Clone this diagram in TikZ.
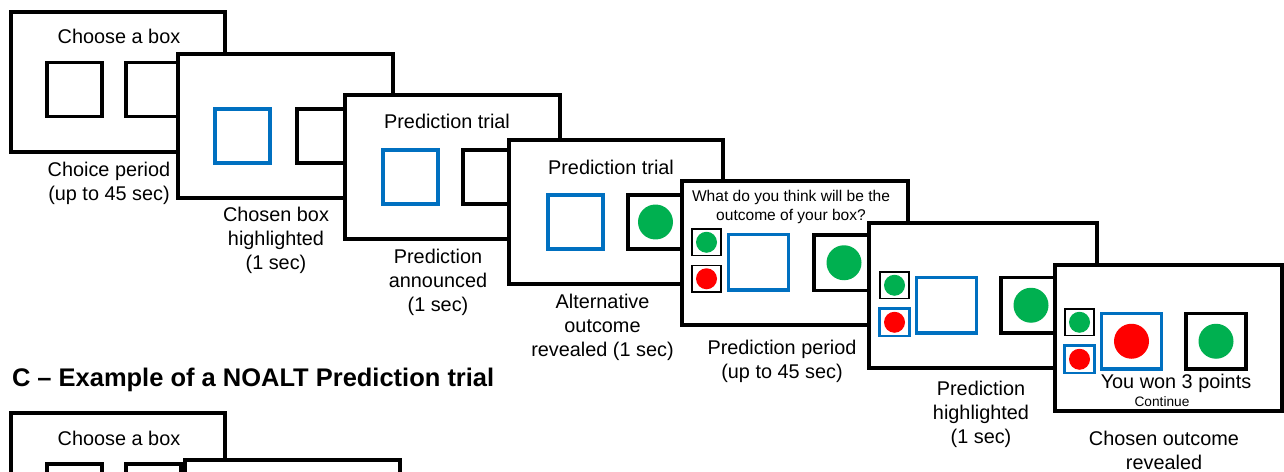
\documentclass[tikz,border=0pt]{standalone}
\usepackage{fontspec}
\setmainfont{Liberation Sans}
\definecolor{boxblue}{RGB}{0,112,192}
\definecolor{dotgreen}{RGB}{0,176,80}
\definecolor{dotred}{RGB}{255,0,0}
\begin{document}
\begin{tikzpicture}
	[x=0.02cm, y=-0.02cm,
	every node/.style={inner sep=0pt, outer sep=0pt},
	screen/.style 2 args={draw, line width=2.3pt, fill=white, anchor=north west, minimum width=#1*0.02cm, minimum height=#2*0.02cm},
	sq/.style={draw, line width=1.9pt, anchor=north west, minimum width=1.1cm, minimum height=1.08cm},
	wide/.style={sq, minimum width=1.2cm, minimum height=1.11cm},
	choice/.style={draw=boxblue},
	pick/.style={draw, line width=1.1pt, anchor=north west, minimum width=0.58cm, minimum height=0.53cm},
	picked/.style={pick, draw=boxblue, line width=1.7pt, minimum width=0.6cm, minimum height=0.55cm},
	dot/.style={circle, fill=#1, minimum size=0.7cm},
	smalldot/.style={circle, fill=#1, minimum size=0.42cm},
	caption/.style={align=center, font=\fontsize{11.3}{13.7}\selectfont},
	question/.style={align=center, font=\fontsize{8.85}{10.8}\selectfont},
	heading/.style={anchor=west, font=\fontsize{14.5}{17}\selectfont\bfseries}]
	\clip (0,0) rectangle (1284,471);
	\node[screen={214}{140}] (s1) at (11,12) {};
	\node[caption] (s1t) at (119,36) {Choose a box};
	\node[sq] (s1a) at (47,62.5) {};
	\node[sq] (s1b) at (126,62.5) {};
	\node[caption] (l1) at (109,183) {Choice period\\(up to 45 sec)};
	\node[screen={215}{144}] (s2) at (178,54) {};
	\node[sq, choice] (s2a) at (215,109) {};
	\node[sq] (s2b) at (297,109) {};
	\node[caption] (l2) at (276,240) {Chosen box\\highlighted\\(1 sec)};
	\node[screen={215}{144}] (s3) at (345,95) {};
	\node[caption] (s3t) at (447,121) {Prediction trial};
	\node[sq, choice] (s3a) at (383,150) {};
	\node[sq] (s3b) at (463,150) {};
	\node[caption] (l3) at (438,282) {Prediction\\announced\\(1 sec)};
	\node[screen={214}{144}] (s4) at (509,140) {};
	\node[caption] (s4t) at (611,167) {Prediction trial};
	\node[sq, choice] (s4a) at (548,195) {};
	\node[sq] (s4b) at (628,195) {};
	\node[dot=dotgreen] (s4g) at (s4b) {};
	\node[caption] (l4) at (602.5,327) {Alternative\\outcome\\revealed (1 sec)};
	\node[screen={226}{144}] (s5) at (682,181) {};
	\node[question] (s5t) at (791,206.5) {What do you think will be the\\outcome of your box?};
	\node[pick] (s5p) at (692,229) {};
	\node[smalldot=dotgreen] (s5pg) at (s5p) {};
	\node[pick] (s5q) at (692,265.5) {};
	\node[smalldot=dotred] (s5qr) at (s5q) {};
	\node[wide, choice] (s5a) at (728.5,234.5) {};
	\node[wide] (s5b) at (814,235) {};
	\node[dot=dotgreen] (s5g) at (s5b) {};
	\node[caption] (l5) at (782,361) {Prediction period\\(up to 45 sec)};
	\node[screen={228}{145}] (s6) at (869,223) {};
	\node[pick] (s6p) at (880,272) {};
	\node[smalldot=dotgreen] (s6pg) at (s6p) {};
	\node[picked] (s6q) at (879.5,308.5) {};
	\node[smalldot=dotred] (s6qr) at (s6q) {};
	\node[wide, choice] (s6a) at (916.5,277.5) {};
	\node[wide] (s6b) at (1001,277.5) {};
	\node[dot=dotgreen] (s6g) at (s6b) {};
	\node[caption] (l6) at (981,414) {Prediction\\highlighted\\(1 sec)};
	\node[screen={227}{146}] (s7) at (1055,265) {};
	\node[pick] (s7p) at (1065,309) {};
	\node[smalldot=dotgreen] (s7pg) at (s7p) {};
	\node[picked] (s7q) at (1064.5,345.5) {};
	\node[smalldot=dotred] (s7qr) at (s7q) {};
	\node[wide, choice] (s7a) at (1101.5,313.5) {};
	\node[dot=dotred] (s7r) at (s7a) {};
	\node[wide] (s7b) at (1186,313.5) {};
	\node[dot=dotgreen] (s7g) at (s7b) {};
	\node[caption] (s7t) at (1176,383) {You won 3 points};
	\node[font=\fontsize{7.8}{9}\selectfont] (s7c) at (1162,402) {Continue};
	\node[caption] (l7) at (1164,450) {Chosen outcome\\revealed};
	\node[heading] (title) at (12,380) {C – Example of a NOALT Prediction trial};
	\node[screen={214}{140}] (b1) at (11,413) {};
	\node[caption] (b1t) at (119,438) {Choose a box};
	\node[sq] (b1a) at (47,464) {};
	\node[sq] (b1b) at (126,464) {};
	\node[screen={215}{140}] (b2) at (185,460) {};
\end{tikzpicture}
\end{document}
